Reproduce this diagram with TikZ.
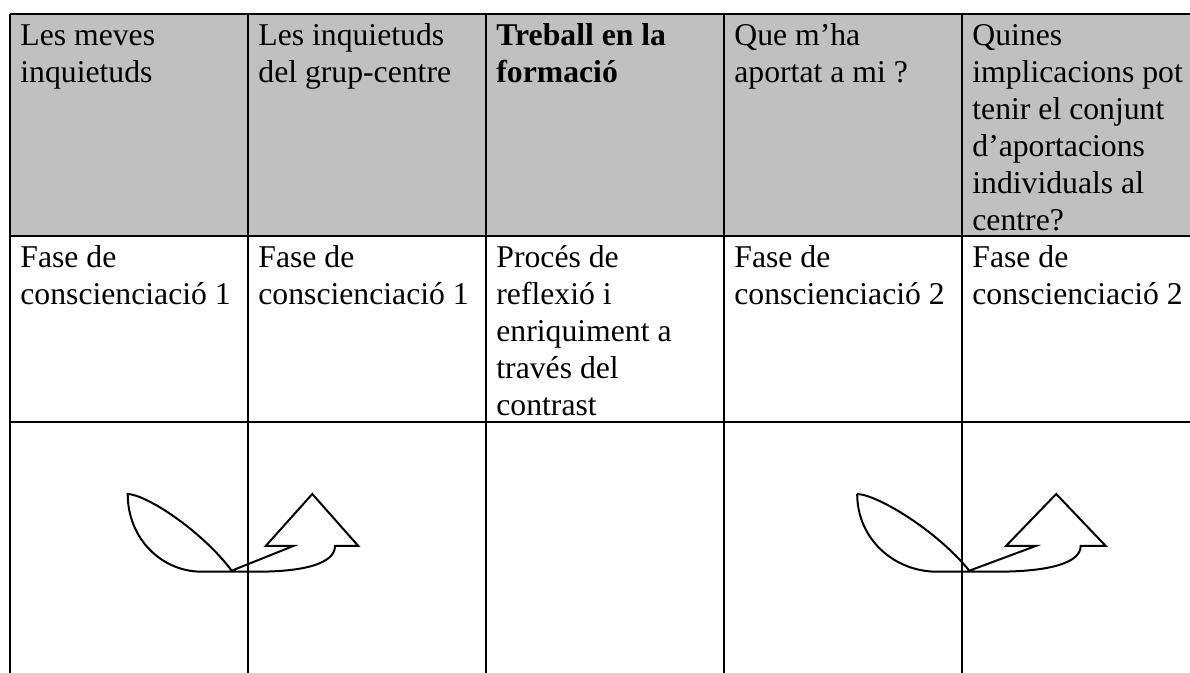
\documentclass[tikz,border=0pt]{standalone}
\usepackage{fontspec}
\setmainfont{Liberation Serif}
\usepackage{tikz}
\definecolor{hdrgray}{RGB}{192,192,192}
\tikzstyle{cell}=[anchor=north west,align=left,inner xsep=5pt,inner ysep=2.5pt,font=\fontsize{15.85}{18.5}\selectfont]
\tikzstyle{rule}=[line width=1pt]
\newcommand{\turnarrow}[2]{%
  \draw[rule,shift={#1},xscale=#2] (-104,-76.7) .. controls (-104,-32) and (-70,1) .. (-30,1)
    -- (25,1) .. controls (75,1) and (103.3,-8) .. (103.3,-24.7)
    -- (126.6,-24.7) -- (80.6,-76.7) -- (34,-24.7) -- (61.6,-24.7) -- (0,0)
    .. controls (-30,-40) and (-85,-76) .. cycle;}

\begin{document}
\begin{tikzpicture}[x=0.5pt,y=-0.5pt]
  \useasboundingbox (0,0) rectangle (1190,673);
  \clip (0,0) rectangle (1190,673);
  % header band and rules
  \fill[hdrgray] (10,14) rectangle (1200,236);
  \draw[rule] (10,14) -- (1200,14);
  \draw[rule] (10,236) -- (1200,236);
  \draw[rule] (10,422) -- (1200,422);
  \foreach \x in {10,248,486,724,962}
    \draw[rule] (\x,14) -- (\x,680);
  % header row
  \node[cell] (meves) at (10,14) {\strut Les meves\\inquietuds};
  \node[cell] (grup) at (248,14) {\strut Les inquietuds\\del grup-centre};
  \node[cell,font=\fontsize{15.85}{18.5}\selectfont\bfseries] (treball) at (486,14) {\strut Treball en la\\formació};
  \node[cell] (aportat) at (724,14) {\strut Que m’ha\\aportat a mi ?};
  \node[cell] (implic) at (962,14) {\strut Quines\\implicacions pot\\tenir el conjunt\\d’aportacions\\individuals al\\centre?};
  % second row
  \node[cell] (fase1a) at (10,236) {\strut Fase de\\conscienciació 1};
  \node[cell] (fase1b) at (248,236) {\strut Fase de\\conscienciació 1};
  \node[cell] (proces) at (486,236) {\strut Procés de\\reflexió i\\enriquiment a\\través del\\contrast};
  \node[cell] (fase2a) at (724,236) {\strut Fase de\\conscienciació 2};
  \node[cell] (fase2b) at (962,236) {\strut Fase de\\conscienciació 2};
  % bent arrows
  \turnarrow{(231.7,570.7)}{1}
  \turnarrow{(969.3,570.7)}{1.078}
\end{tikzpicture}
\end{document}
